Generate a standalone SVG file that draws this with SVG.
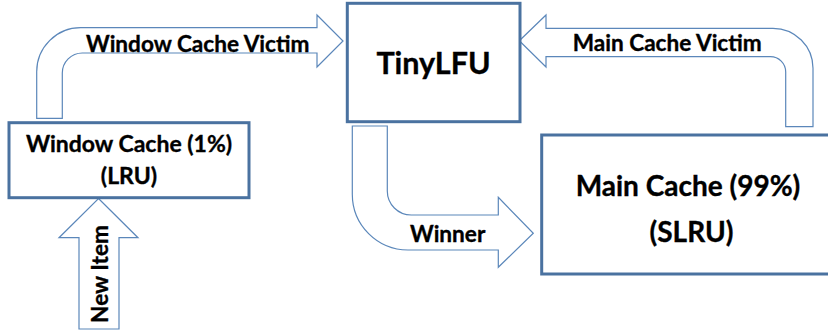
<svg xmlns="http://www.w3.org/2000/svg" width="828" height="331" viewBox="0 0 828 331">
<style>
.box{fill:#ffffff;stroke:#4a72a0;stroke-width:3}
.arr{fill:#ffffff;stroke:#5b87ba;stroke-width:1.2;stroke-linejoin:miter}
text{font-family:Lato,"Open Sans","Liberation Sans",sans-serif;font-weight:bold;fill:#000000;stroke:#000000;stroke-width:0.35}
.lbl{font-size:22.6px}
.big{font-size:30.5px;text-anchor:middle}
.mid{font-size:28px;text-anchor:middle}
.box-t{font-size:23px;text-anchor:middle}
</style>
<rect width="828" height="331" fill="#ffffff"/>
<g id="connectors">
<g id="window-cache-victim">
<path class="arr" d="M36.7 118.3 L36.7 71.7 A44 44 0 0 1 80.7 27.7 L317 27.7 L317 15 L343 41 L317 67 L317 53 L82.3 53 A20 20 0 0 0 62.3 73 L62.3 118.3 Z"/>
<text class="lbl" x="86" y="51.7">Window Cache Victim</text>
</g>
<g id="main-cache-victim">
<path class="arr" d="M519.3 40.7 L546 15 L546 28.3 L773 28.3 A40 40 0 0 1 813 68.3 L813 126.7 L785.7 126.7 L785.7 72 A15.3 15.3 0 0 0 770.4 56.7 L546 56.7 L546 67 Z"/>
<text class="lbl" x="572.7" y="51">Main Cache Victim</text>
</g>
<g id="winner">
<path class="arr" d="M352.3 126 L387.3 126 L387.3 191 A24 24 0 0 0 411.3 215 L498.3 215 L498.3 197.3 L533.3 233.3 L498.3 267.3 L498.3 250 L408 250 A55.7 55.7 0 0 1 352.3 194.3 Z"/>
<text class="lbl" x="410" y="241.7">Winner</text>
</g>
<g id="new-item">
<path class="arr" d="M98.5 198.5 L138 237.7 L119 237.7 L119 329 L79 329 L79 237.7 L59 237.7 Z"/>
<text class="lbl" font-size="23.5px" text-anchor="middle" transform="translate(107.5 274) rotate(-90)">New Item</text>
</g>
</g>
<g id="window-cache">
<rect class="box" x="9" y="122.7" width="240" height="75"/>
<text class="box-t" x="129" y="151.7">Window Cache (1%)</text>
<text class="box-t" x="129" y="184">(LRU)</text>
</g>
<g id="tinylfu">
<rect class="box" x="347.3" y="3.3" width="172.7" height="118.4"/>
<text class="big" x="433.5" y="74">TinyLFU</text>
</g>
<g id="main-cache">
<rect class="box" x="541.7" y="135" width="300" height="139"/>
<text class="mid" x="688" y="196">Main Cache (99%)</text>
<text class="mid" x="691.5" y="241.7">(SLRU)</text>
</g>
</svg>
